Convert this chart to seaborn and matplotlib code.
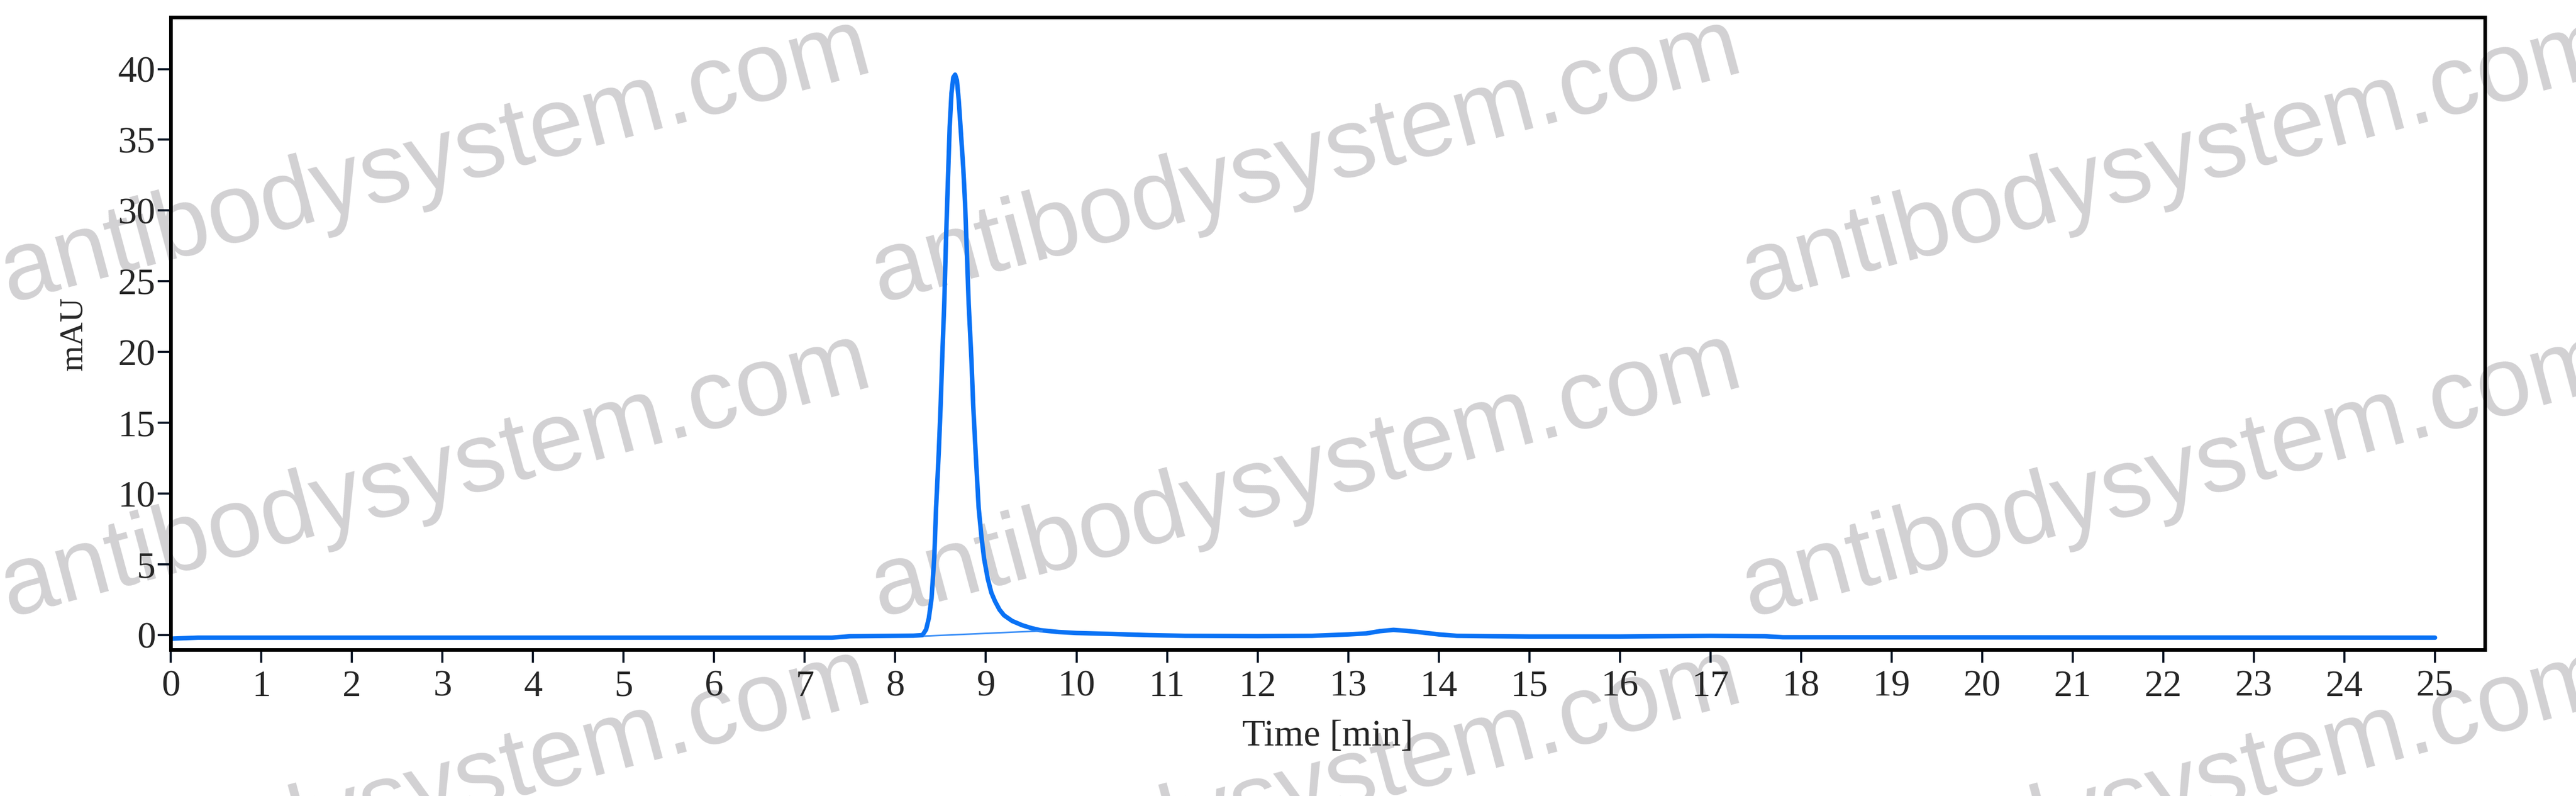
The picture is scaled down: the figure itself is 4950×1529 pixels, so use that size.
import numpy as np
import pandas as pd
import seaborn as sns
import matplotlib.pyplot as plt

# chromatogram trace (time in min, signal in mAU)
time_min = [0.0, 0.3, 2.0, 4.0, 6.0, 7.3, 7.5, 8.0, 8.2, 8.30, 8.34, 8.37, 8.40,
            8.43, 8.45, 8.48, 8.50, 8.52, 8.54, 8.56, 8.58, 8.60, 8.62, 8.64,
            8.66, 8.68, 8.70, 8.72, 8.75, 8.77, 8.79, 8.81, 8.84, 8.86, 8.89,
            8.92, 8.95, 8.98, 9.02, 9.06, 9.10, 9.15, 9.20, 9.29, 9.40, 9.50,
            9.60, 9.80, 10.0, 10.4, 10.8, 11.2, 12.0, 12.6, 13.0, 13.2, 13.35,
            13.5, 13.65, 13.8, 14.0, 14.2, 14.6, 15.0, 16.0, 17.0, 17.6, 17.8,
            20.0, 22.0, 25.0]
signal_mau = [-0.25, -0.18, -0.18, -0.18, -0.18, -0.18, -0.08, -0.05, -0.04, 0.0,
              0.4, 1.2, 2.6, 5.5, 9.0, 13.0, 16.2, 20.0, 23.4, 28.0, 32.0, 35.9,
              38.3, 39.4, 39.6, 39.2, 37.8, 35.9, 33.0, 30.5, 27.0, 23.4, 19.5,
              16.2, 12.5, 9.0, 7.0, 5.4, 4.0, 3.0, 2.4, 1.8, 1.4, 1.0, 0.7, 0.5,
              0.35, 0.22, 0.15, 0.08, 0.0, -0.05, -0.07, -0.05, 0.05, 0.12, 0.28,
              0.37, 0.3, 0.2, 0.05, -0.05, -0.08, -0.1, -0.1, -0.05, -0.08,
              -0.15, -0.16, -0.17, -0.18]

# integration baseline under the main peak
base_time = [8.32, 9.62]
base_mau = [-0.07, 0.3]

x_ticks = list(range(0, 26))
y_ticks = [0, 5, 10, 15, 20, 25, 30, 35, 40]

trace = pd.DataFrame({"Time": time_min, "mAU": signal_mau})
baseline = pd.DataFrame({"Time": base_time, "mAU": base_mau})

sns.set_style("ticks")
plt.rcParams['font.family'] = ['Liberation Serif', 'DejaVu Serif']

fig = plt.figure(figsize=(49.5, 15.29), dpi=100)
ax = fig.add_axes([0.0663, 0.1838, 0.8983, 0.7946])
ax.set_facecolor('none')

# watermark, drawn under the axes
for wy in (0.797, 0.402, 0.006):
    for wx in (0.169, 0.507, 0.845):
        fig.text(wx, wy, "antibodysystem.com", family='Liberation Sans',
                 fontsize=136, color='#d2d1d3', rotation=15,
                 ha='center', va='center', rotation_mode='anchor', zorder=-1)

sns.lineplot(data=trace, x="Time", y="mAU", ax=ax, color='#0a72f5',
             linewidth=6.2, sort=False, estimator=None)
sns.lineplot(data=baseline, x="Time", y="mAU", ax=ax, color='#3b8ff7',
             linewidth=2.2, sort=False, estimator=None)

ax.set_xlim(0, 25.55)
ax.set_ylim(-1.03, 43.66)
ax.set_xticks(x_ticks)
ax.set_yticks(y_ticks)

for s in ax.spines.values():
    s.set_linewidth(5)
    s.set_color('black')

ax.tick_params(axis='both', direction='out', length=18, width=3,
               color='#0b1726', labelsize=52)
ax.tick_params(axis='x', pad=10)
ax.tick_params(axis='y', pad=3)

ax.set_xlabel("Time [min]", fontsize=52, labelpad=22)
ax.set_ylabel("mAU", fontsize=46, labelpad=40)

fig.savefig("out.png", dpi=100)
